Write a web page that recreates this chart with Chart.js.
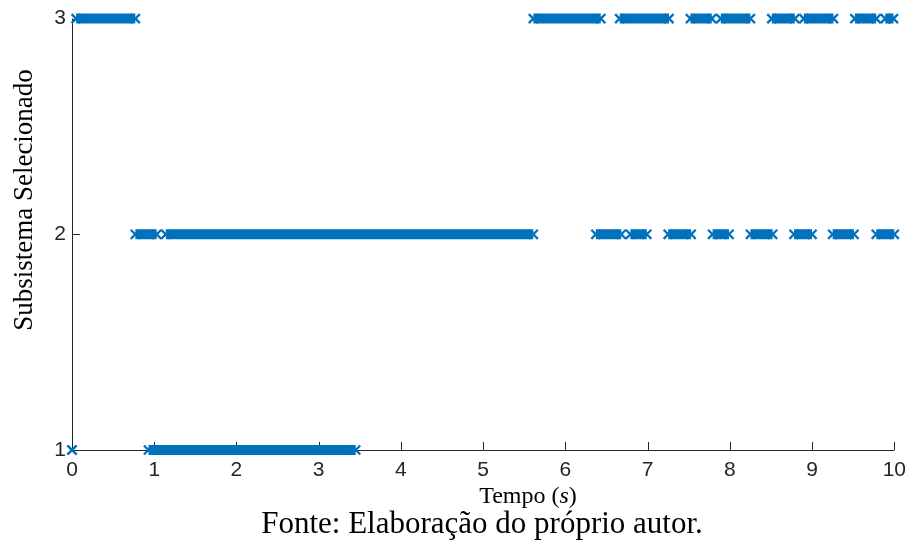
<!DOCTYPE html>
<html>
<head>
<meta charset="utf-8">
<script src="https://cdn.jsdelivr.net/npm/chart.js@4/dist/chart.umd.min.js"></script>
<style>
  html, body { margin: 0; padding: 0; background: #ffffff; }
  #wrap { width: 914px; height: 548px; position: relative; }
</style>
</head>
<body>
<div id="wrap"><canvas id="c" width="914" height="548"></canvas></div>
<script>
// Axis ticks
const xTicks = [0, 1, 2, 3, 4, 5, 6, 7, 8, 9, 10];
const yTicks = [1, 2, 3];

// Time intervals [start, end] in seconds during which each subsystem is selected
const subsystem1 = [[0, 0], [0.93, 3.45]];
const subsystem2 = [[0.77, 1.03], [1.14, 5.61], [6.37, 6.68], [6.79, 6.99], [7.25, 7.53],
                    [7.79, 7.99], [8.25, 8.52], [8.78, 9.00], [9.25, 9.51], [9.78, 10.0]];
const subsystem3 = [[0.05, 0.77], [5.61, 6.43], [6.66, 7.26], [7.52, 7.78], [7.89, 8.25],
                    [8.51, 8.79], [8.90, 9.26], [9.52, 9.78], [9.89, 9.99]];

const BLUE = '#0072BD';
const AXIS = '#262626';

function toPoints(intervals, level) {
  const pts = [];
  intervals.forEach(([a, b], i) => {
    if (i > 0) pts.push({ x: null, y: null });
    pts.push({ x: a, y: level });
    pts.push({ x: b, y: level });
  });
  return pts;
}

function makeSet(intervals, level) {
  return {
    data: toPoints(intervals, level),
    showLine: true,
    spanGaps: false,
    borderColor: BLUE,
    borderWidth: 10,
    borderCapStyle: 'butt',
    pointStyle: 'crossRot',
    pointRadius: 6.4,
    pointBorderWidth: 2.3,
    pointBorderColor: BLUE,
    pointBackgroundColor: BLUE,
    pointHoverRadius: 6.4,
    clip: false
  };
}

// Axis lines, inward tick marks and the text labels around the plot
const frame = {
  id: 'frame',
  beforeDatasetsDraw(chart) {
    const { ctx, chartArea: a, scales: { x, y } } = chart;
    ctx.save();
    ctx.strokeStyle = AXIS;
    ctx.lineWidth = 1;
    ctx.beginPath();
    ctx.moveTo(Math.round(a.left) + 0.5, a.top);
    ctx.lineTo(Math.round(a.left) + 0.5, Math.round(a.bottom) + 0.5);
    ctx.lineTo(a.right, Math.round(a.bottom) + 0.5);
    xTicks.forEach(v => {
      const px = Math.round(x.getPixelForValue(v)) + 0.5;
      ctx.moveTo(px, a.bottom);
      ctx.lineTo(px, a.bottom - 8);
    });
    yTicks.forEach(v => {
      const py = Math.round(y.getPixelForValue(v)) + 0.5;
      ctx.moveTo(a.left, py);
      ctx.lineTo(a.left + 8, py);
    });
    ctx.stroke();
    ctx.restore();
  },
  afterDraw(chart) {
    const { ctx } = chart;
    const serif = '"Liberation Serif", "Times New Roman", serif';
    ctx.save();
    ctx.fillStyle = '#000000';
    ctx.textBaseline = 'middle';

    // x axis title with italic variable
    const parts = [
      { t: 'Tempo ', f: '24px ' + serif },
      { t: '(', f: '24px ' + serif },
      { t: 's', f: 'italic 24px ' + serif },
      { t: ')', f: '24px ' + serif }
    ];
    let total = 0;
    parts.forEach(p => { ctx.font = p.f; p.w = ctx.measureText(p.t).width; total += p.w; });
    let cx = 528 - total / 2;
    ctx.textAlign = 'left';
    parts.forEach(p => { ctx.font = p.f; ctx.fillText(p.t, cx, 497); cx += p.w; });

    // caption
    ctx.font = '31px ' + serif;
    ctx.textAlign = 'center';
    ctx.fillText('Fonte: Elaboração do próprio autor.', 482, 525);

    // y axis title
    ctx.font = '27px ' + serif;
    ctx.translate(25, 200);
    ctx.rotate(-Math.PI / 2);
    ctx.fillText('Subsistema Selecionado', 0, 0);
    ctx.restore();
  }
};

const tickFont = { family: '"Liberation Sans", Arial, sans-serif', size: 21 };

new Chart(document.getElementById('c'), {
  type: 'scatter',
  data: {
    datasets: [
      makeSet(subsystem1, 1),
      makeSet(subsystem2, 2),
      makeSet(subsystem3, 3)
    ]
  },
  options: {
    responsive: false,
    devicePixelRatio: 1,
    animation: false,
    events: [],
    layout: { padding: { left: 0, right: 16, top: 18, bottom: 0 } },
    plugins: { legend: { display: false }, tooltip: { enabled: false } },
    scales: {
      x: {
        type: 'linear',
        min: 0, max: 10,
        grid: { display: false, drawTicks: false },
        border: { display: false },
        ticks: { font: tickFont, color: AXIS, padding: 8, maxRotation: 0, autoSkip: false },
        afterBuildTicks: s => { s.ticks = xTicks.map(v => ({ value: v })); },
        afterFit: s => { s.height = 98; }
      },
      y: {
        type: 'linear',
        min: 1, max: 3,
        grid: { display: false, drawTicks: false },
        border: { display: false },
        ticks: { font: tickFont, color: AXIS, padding: 6, autoSkip: false },
        afterBuildTicks: s => { s.ticks = yTicks.map(v => ({ value: v })); },
        afterFit: s => { s.width = 72; }
      }
    }
  },
  plugins: [frame]
});
</script>
</body>
</html>
